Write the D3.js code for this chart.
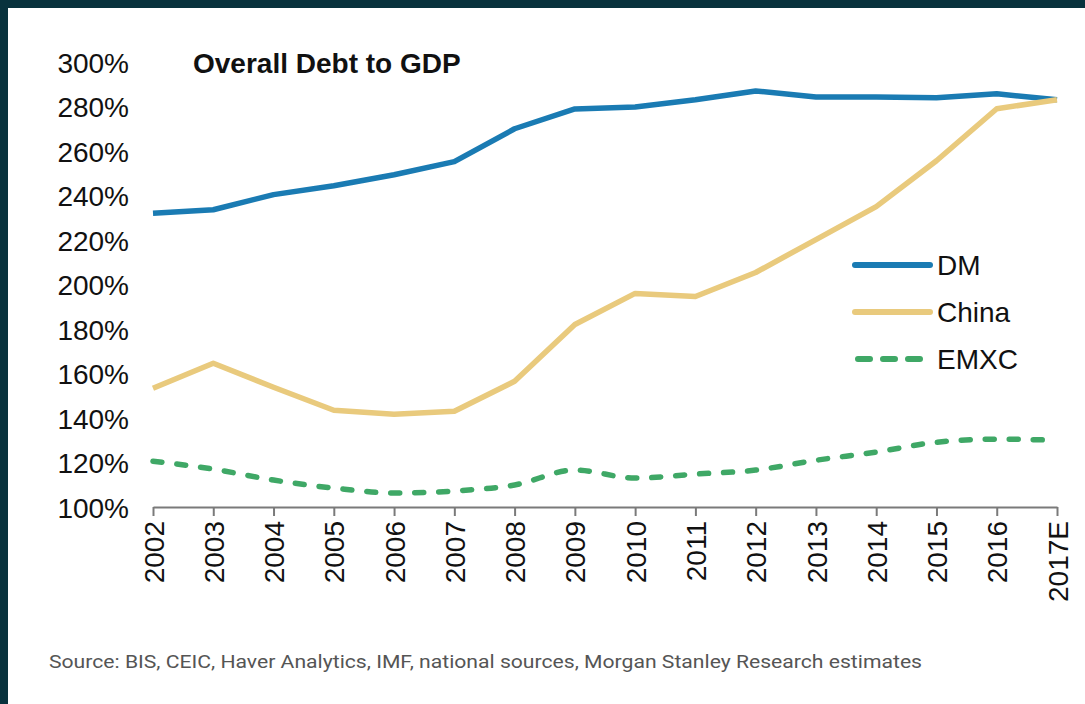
<!DOCTYPE html>
<html>
<head>
<meta charset="utf-8">
<script src="https://cdn.jsdelivr.net/npm/d3@7"></script>
<style>
  html, body { margin: 0; padding: 0; background: #08323d; }
  svg { display: block; }
</style>
</head>
<body>
<div id="chart"></div>
<script>
const years = ["2002", "2003", "2004", "2005", "2006", "2007", "2008", "2009",
    "2010", "2011", "2012", "2013", "2014", "2015", "2016", "2017E"];

const dm = [232, 233.6, 240.4, 244.4, 249.3, 255.2, 270, 278.9,
    279.8, 283, 287, 284.3, 284.3, 283.9, 285.7, 283];
const china = [153.4, 164.6, 153.8, 143.5, 141.7, 143, 156.5, 182,
    196, 194.6, 205.4, 220.2, 235, 255.6, 279, 283];
const emxc = [120.6, 117, 112.1, 108.5, 106.3, 107.2, 109.9, 116.6,
    113, 114.8, 116.6, 121, 124.7, 129.1, 130.5, 130];

const yTicks = [100, 120, 140, 160, 180, 200, 220, 240, 260, 280, 300];

const width = 1085;
const height = 704;

const series = [
    { name: "DM", values: dm, color: "#1a7bb3", dash: null, curve: d3.curveLinear },
    { name: "China", values: china, color: "#e9ca7d", dash: null, curve: d3.curveLinear },
    { name: "EMXC", values: emxc, color: "#3fa866", dash: "9,15", curve: d3.curveMonotoneX },
];

const svg = d3.select("#chart").append("svg")
    .attr("width", width)
    .attr("height", height);

// white panel inside the dark frame
svg.append("rect")
    .attr("x", 8).attr("y", 8)
    .attr("width", width - 8).attr("height", height - 8)
    .attr("fill", "#fff");

const x = d3.scalePoint(years, [153, 1057]);
const y = d3.scaleLinear([100, 300], [507, 62]);

const font = "'Liberation Sans', Arial, sans-serif";

// y axis: labels only
const yAxis = svg.append("g")
    .attr("transform", "translate(129,0)")
    .call(d3.axisLeft(y).tickValues(yTicks).tickSize(0).tickPadding(0)
        .tickFormat(d => d + "%"));
yAxis.select(".domain").remove();
yAxis.selectAll("text")
    .attr("font-family", font)
    .attr("font-size", "28px")
    .attr("fill", "#111")
    .attr("dy", "0.36em");

// x axis
const xAxis = svg.append("g")
    .attr("transform", "translate(0,507)")
    .call(d3.axisBottom(x).tickSize(9).tickSizeOuter(0));
xAxis.select(".domain").attr("stroke", "#7a7a7a").attr("stroke-width", 2);
xAxis.selectAll(".tick line").attr("stroke", "#7a7a7a").attr("stroke-width", 2);
xAxis.selectAll("text")
    .attr("font-family", font)
    .attr("font-size", "28px")
    .attr("fill", "#111")
    .attr("transform", "rotate(-90)")
    .attr("text-anchor", "end")
    .attr("x", -14)
    .attr("y", 0)
    .attr("dy", "0.36em");

// lines
series.forEach(s => {
    const line = d3.line()
        .x((d, i) => x(years[i]))
        .y(d => y(d))
        .curve(s.curve);
    svg.append("path")
        .datum(s.values)
        .attr("d", line)
        .attr("fill", "none")
        .attr("stroke", s.color)
        .attr("stroke-width", 5.5)
        .attr("stroke-linejoin", "round")
        .attr("stroke-linecap", s.dash ? "round" : "butt")
        .attr("stroke-dasharray", s.dash);
});

// title
svg.append("text")
    .attr("x", 193)
    .attr("y", 73)
    .attr("font-family", font)
    .attr("font-size", "28px")
    .attr("font-weight", "bold")
    .attr("fill", "#111")
    .text("Overall Debt to GDP");

// legend
const legend = svg.append("g")
    .selectAll("g")
    .data(series)
    .join("g")
    .attr("transform", (d, i) => `translate(855,${265 + i * 47})`);

legend.append("line")
    .attr("x1", d => d.dash ? 3 : 0)
    .attr("x2", 75)
    .attr("stroke", d => d.color)
    .attr("stroke-width", 6)
    .attr("stroke-linecap", "round")
    .attr("stroke-dasharray", d => d.dash ? "12,13" : null);

legend.append("text")
    .attr("x", 82)
    .attr("dy", "0.36em")
    .attr("font-family", font)
    .attr("font-size", "28px")
    .attr("fill", "#111")
    .text(d => d.name);

// source
svg.append("text")
    .attr("x", 49)
    .attr("y", 668)
    .attr("font-family", "Roboto, 'Liberation Sans', sans-serif")
    .attr("font-size", "18px")
    .attr("fill", "#555")
    .attr("textLength", 873)
    .attr("lengthAdjust", "spacingAndGlyphs")
    .text("Source: BIS, CEIC, Haver Analytics, IMF, national sources, Morgan Stanley Research estimates");
</script>
</body>
</html>
